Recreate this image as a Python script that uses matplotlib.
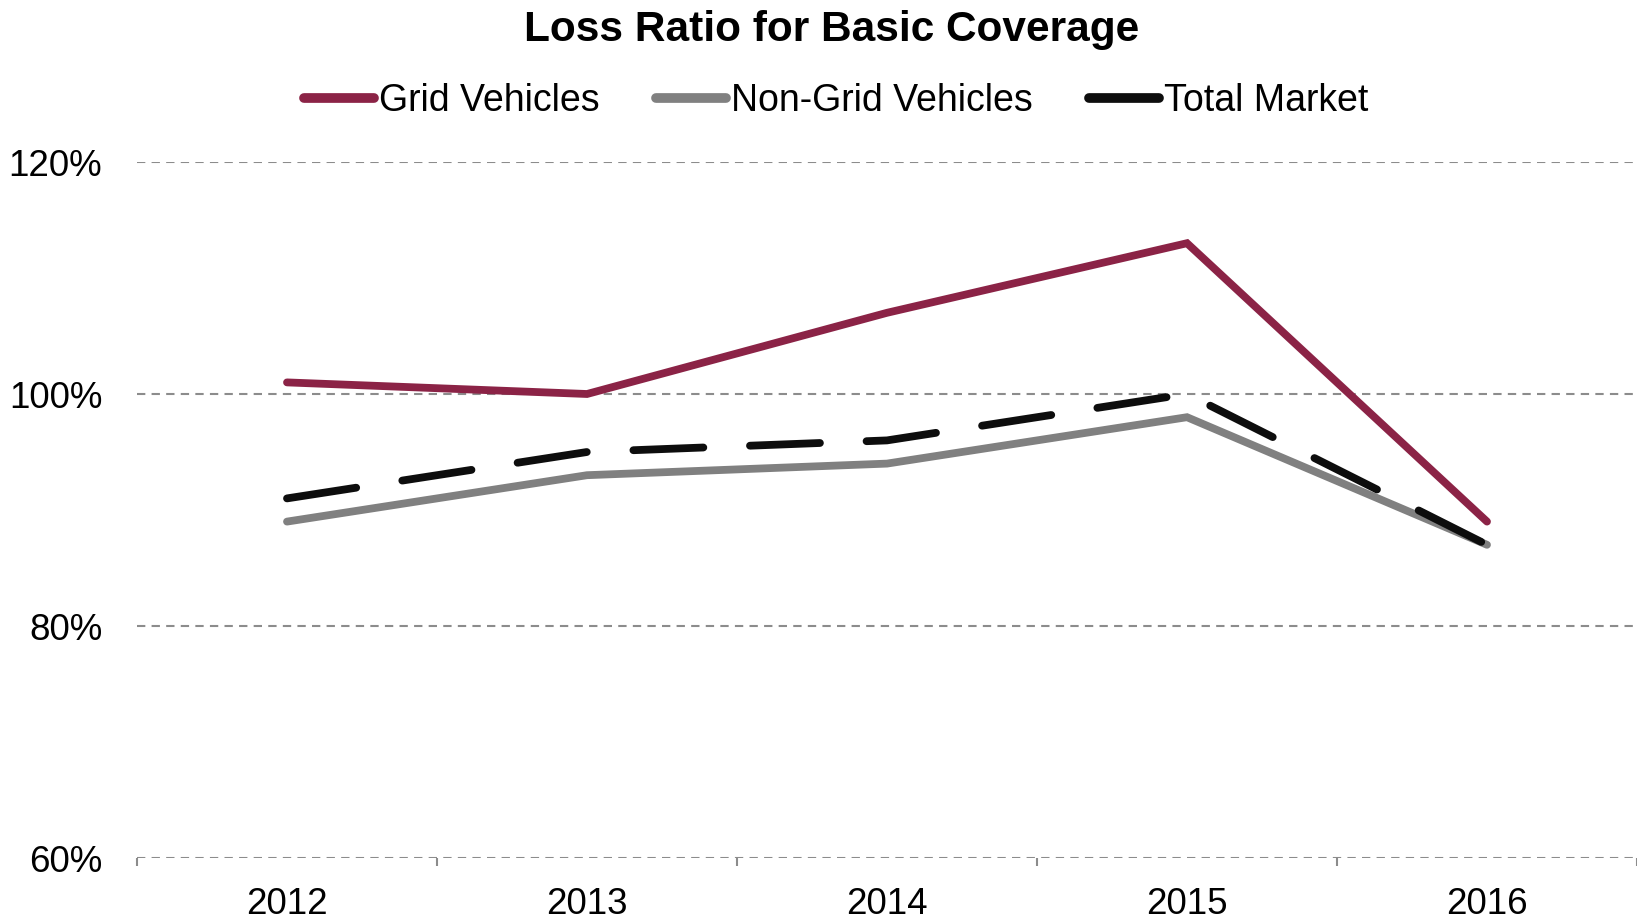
import matplotlib
matplotlib.use("Agg")
import matplotlib.pyplot as plt
from matplotlib.ticker import FuncFormatter, FixedLocator

years = ["2012", "2013", "2014", "2015", "2016"]
grid_vehicles = [1.01, 1.00, 1.07, 1.13, 0.89]
non_grid_vehicles = [0.89, 0.93, 0.94, 0.98, 0.87]
total_market = [0.91, 0.95, 0.96, 1.00, 0.87]

plt.rcParams['font.family'] = ['Liberation Sans', 'DejaVu Sans']
fs = 26.5

fig = plt.figure(figsize=(16.37, 9.21), dpi=100)
ax = fig.add_axes([137 / 1637, 1 - 858 / 921, 1500 / 1637, (858 - 162) / 921])

x = list(range(len(years)))
ax.plot(x, grid_vehicles, color='#8B2346', lw=5.6, solid_capstyle='round',
        solid_joinstyle='miter', label='Grid Vehicles', zorder=3)
ax.plot(x, non_grid_vehicles, color='#808080', lw=5.6, solid_capstyle='round',
        solid_joinstyle='miter', label='Non-Grid Vehicles', zorder=3)
ax.plot(x, total_market, color='#0D0D0D', lw=5.6, dashes=(9, 6),
        dash_capstyle='round', label='Total Market', zorder=4)

ax.set_xlim(-0.5, len(years) - 0.5)
ax.set_ylim(0.6, 1.2)
ax.set_yticks([0.6, 0.8, 1.0, 1.2])
ax.yaxis.set_major_formatter(FuncFormatter(lambda v, p: f"{v * 100:.0f}%"))
ax.set_xticks(x)
ax.set_xticklabels(years)
ax.xaxis.set_minor_locator(FixedLocator([i - 0.5 for i in range(len(years) + 1)]))

ax.tick_params(axis='x', which='major', length=0, pad=21, labelsize=fs)
ax.tick_params(axis='x', which='minor', length=6, width=1.5, color='#8C8C8C', direction='out')
ax.tick_params(axis='y', length=0, pad=25, labelsize=fs)

for s in ax.spines.values():
    s.set_visible(False)
ax.grid(axis='y', color='#8C8C8C', linestyle=(0, (4, 3)), lw=1.5, zorder=1)
ax.set_axisbelow(True)

fig.text(0.508, 1 - 30 / 921, "Loss Ratio for Basic Coverage", ha='center', va='center',
         fontsize=30.5, fontweight='bold')

handles, labels = ax.get_legend_handles_labels()
leg = fig.legend(handles, labels, loc='center', bbox_to_anchor=(0.511, 1 - 101 / 921),
                 ncol=3, frameon=False, fontsize=27, handlelength=1.85,
                 handletextpad=0.15, columnspacing=1.5)
for line in leg.get_lines():
    line.set_linewidth(7)
    line.set_linestyle('-')
    line.set_solid_capstyle('round')

fig.savefig("out.png", dpi=100)
